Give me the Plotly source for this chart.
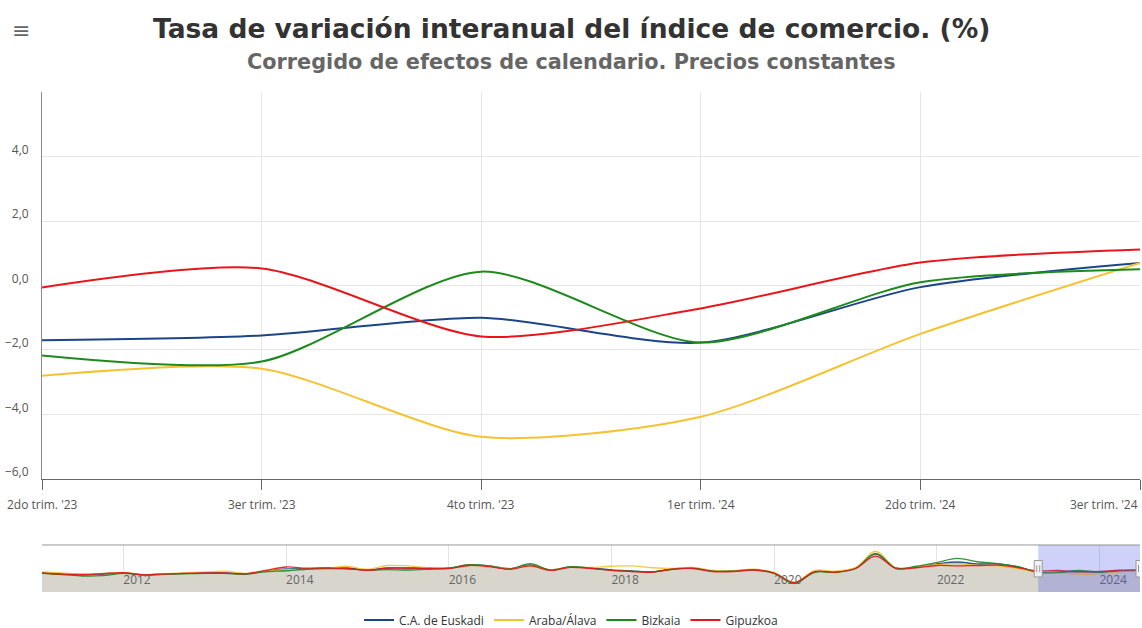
import plotly.graph_objects as go
import pandas as pd

# ---------------- data ----------------
quarters = ["2do trim. '23", "3er trim. '23", "4to trim. '23",
            "1er trim. '24", "2do trim. '24", "3er trim. '24"]

euskadi = [-1.70, -1.55, -1.00, -1.77, -0.05, 0.70]
araba = [-2.80, -2.58, -4.69, -4.07, -1.50, 0.70]
bizkaia = [-2.17, -2.36, 0.43, -1.77, 0.10, 0.50]
gipuzkoa = [-0.06, 0.53, -1.58, -0.71, 0.71, 1.12]

# navigator history 2011Q1 .. 2023Q1 (read roughly off the small navigator)
nav_euskadi_hist = [-2.9, -4.3, -5.6, -4.3, -2.9, -5.6, -4.3, -3.6, -2.9, -2.9, -4.3, -0.3,
                    2.4, 2.8, 3.7, 3.7, 1.1, 3.7, 3.7, 3.7, 3.7, 7.7, 6.4, 2.8,
                    7.7, 1.1, 5.1, 3.7, 1.1, -0.3, -1.6, 2.4, 3.7, -0.3, -0.3, 1.1,
                    -2.9, -16.3, -1.6, -1.6, 3.7, 22.4, 3.7, 5.1, 9.1, 11.7, 9.1, 9.1, 5.1]
nav_araba_hist = [-1.5, -3.0, -4.5, -3.5, -2.5, -5.0, -4.0, -3.0, -1.5, -0.5, -3.5, -0.5,
                  1.5, 2.0, 3.0, 6.0, 2.0, 7.0, 6.5, 4.0, 3.5, 7.0, 6.0, 3.0,
                  6.5, 1.5, 5.0, 4.5, 6.0, 6.5, 4.0, 3.0, 4.5, 0.5, 0.0, 2.0,
                  -2.0, -15.0, 0.5, -0.5, 4.5, 26.0, 4.0, 5.5, 8.0, 9.5, 7.0, 6.5, 3.0]
nav_bizkaia_hist = [-3.5, -5.0, -7.0, -6.5, -3.5, -5.5, -4.5, -4.0, -3.5, -3.5, -4.5, -1.5,
                    0.0, 2.0, 3.0, 2.5, 1.0, 1.5, 1.0, 2.0, 3.5, 8.0, 6.5, 2.5,
                    9.5, 1.0, 5.5, 3.5, 0.5, -0.5, -1.5, 2.0, 3.5, -0.5, -0.5, 1.0,
                    -3.5, -17.0, -2.0, -2.0, 3.0, 23.0, 3.5, 6.0, 11.0, 16.5, 12.0, 9.5, 5.5]
nav_gipuzkoa_hist = [-3.0, -4.5, -5.0, -4.0, -2.5, -5.5, -4.5, -3.5, -3.0, -3.0, -4.0, 0.5,
                     5.0, 3.5, 3.5, 3.0, 0.5, 3.5, 3.5, 3.0, 3.0, 7.0, 5.5, 2.0,
                     6.5, 0.5, 4.5, 3.0, 0.5, -1.0, -2.0, 2.0, 3.0, -1.0, -1.0, 1.0,
                     -3.0, -16.0, -1.0, -2.0, 3.0, 19.5, 3.0, 4.0, 7.0, 6.5, 7.0, 7.5, 4.0]

names = ["C.A. de Euskadi", "Araba/Álava", "Bizkaia", "Gipuzkoa"]
colors = ["#1c4587", "#f5c332", "#1e8a1e", "#e8161b"]

NAV_YMIN, NAV_YMAX = -28.3, 34.4
# ---------------------------------------

main_series = [euskadi, araba, bizkaia, gipuzkoa]
nav_series = [h + s for h, s in zip([nav_euskadi_hist, nav_araba_hist, nav_bizkaia_hist, nav_gipuzkoa_hist],
                                    main_series)]
n_nav = len(nav_series[0])
nav_dates = pd.date_range("2011-01-01", periods=n_nav, freq="QS")
sel_start, sel_end = nav_dates[-len(quarters)], nav_dates[-1]

fig = go.Figure()

for name, col, vals in zip(names, colors, main_series):
    fig.add_trace(go.Scatter(x=quarters, y=vals, name=name, mode="lines",
                             line=dict(color=col, width=2, shape="spline", smoothing=0.75),
                             xaxis="x", yaxis="y"))

# navigator area
fig.add_trace(go.Scatter(x=nav_dates, y=[NAV_YMIN] * n_nav, mode="lines", line=dict(width=0),
                         showlegend=False, hoverinfo="skip", xaxis="x2", yaxis="y2"))
fig.add_trace(go.Scatter(x=nav_dates, y=nav_series[0], mode="lines", line=dict(width=0, shape="spline"),
                         fill="tonexty", fillcolor="#d7d5cc", showlegend=False, hoverinfo="skip",
                         xaxis="x2", yaxis="y2"))
for name, col, vals in zip(names, colors, nav_series):
    fig.add_trace(go.Scatter(x=nav_dates, y=vals, mode="lines", showlegend=False, hoverinfo="skip",
                             line=dict(color=col, width=1.3, shape="spline"), opacity=0.9,
                             xaxis="x2", yaxis="y2"))

shapes = []
# navigator top outline
shapes.append(dict(type="line", xref="x2 domain", yref="y2 domain", x0=0, x1=1, y0=1, y1=1,
                   line=dict(color="#9a9a9a", width=1)))
# selected range mask
shapes.append(dict(type="rect", xref="x2", yref="y2 domain", x0=sel_start, x1=sel_end, y0=0, y1=1,
                   fillcolor="rgba(80,90,235,0.28)", line=dict(width=0), layer="above"))
for d in (sel_start, sel_end):
    shapes.append(dict(type="rect", xref="x2", yref="y2 domain", xsizemode="pixel", xanchor=d,
                       x0=-4, x1=4, y0=0.32, y1=0.67, fillcolor="#f2f2f2",
                       line=dict(color="#999999", width=1), layer="above"))
    for dx in (-1.5, 1.5):
        shapes.append(dict(type="line", xref="x2", yref="y2 domain", xsizemode="pixel", xanchor=d,
                           x0=dx, x1=dx, y0=0.42, y1=0.57, line=dict(color="#999999", width=1),
                           layer="above"))

CENTER_X = 0.4818  # page centre expressed in plot-area paper coordinates

annotations = [
    dict(text="<b>Tasa de variación interanual del índice de comercio. (%)</b>", xref="paper", yref="paper",
         x=CENTER_X, y=1.119, xanchor="center", yanchor="middle", showarrow=False,
         font=dict(family="DejaVu Sans", size=26.5, color="#333333")),
    dict(text="<b>Corregido de efectos de calendario. Precios constantes</b>", xref="paper", yref="paper",
         x=CENTER_X, y=1.056, xanchor="center", yanchor="middle", showarrow=False,
         font=dict(family="DejaVu Sans", size=20.8, color="#666666")),
    dict(text="≡", xref="paper", yref="paper", x=-0.019, y=1.114, xanchor="center", yanchor="middle",
         showarrow=False, font=dict(family="DejaVu Sans", size=22, color="#666666")),
]
for i, q in enumerate(quarters):
    last = i == len(quarters) - 1
    annotations.append(dict(text=q, xref="x", yref="y domain", x=i, y=0, yanchor="middle",
                            xanchor="right" if last else "center", yshift=-26,
                            showarrow=False, font=dict(family="Open Sans", size=12, color="#555555")))

fig.update_layout(
    width=1142, height=628,
    margin=dict(l=42, r=2, t=92, b=0, autoexpand=False),
    paper_bgcolor="white", plot_bgcolor="white",
    separators=",.",
    font=dict(family="Open Sans", size=12, color="#555555"),
    showlegend=True,
    legend=dict(orientation="h", x=CENTER_X, xanchor="center", y=0.0149, yanchor="middle",
                traceorder="normal",
                font=dict(family="Open Sans", size=12, color="#333333"), itemwidth=30,
                bgcolor="rgba(0,0,0,0)"),
    xaxis=dict(domain=[0, 1], anchor="y", type="category", range=[0, len(quarters) - 1],
               showgrid=True, gridcolor="#e6e6e6", showline=True, linecolor="#666666", linewidth=1,
               ticks="outside", ticklen=10, tickcolor="#666666", showticklabels=False, zeroline=False,
               automargin=False),
    yaxis=dict(domain=[0.278, 1], anchor="x", range=[-6, 6], tickvals=[-6, -4, -2, 0, 2, 4],
               tickformat=".1f", showgrid=True, gridcolor="#e6e6e6", zeroline=False,
               showline=True, linecolor="#8a8a8a", linewidth=1, ticks="", ticklabelstandoff=10,
               ticklabelshift=-7, automargin=False,
               tickfont=dict(family="Open Sans", size=12, color="#555555")),
    xaxis2=dict(domain=[0, 1], anchor="y2", type="date", range=[nav_dates[0], nav_dates[-1]],
                showgrid=True, gridcolor="#e3e3e3", tick0="2012-01-01", dtick="M24", tickformat="%Y",
                ticklabelposition="inside right", ticks="", showline=False, zeroline=False,
                automargin=False,
                tickfont=dict(family="Open Sans", size=12, color="#666666")),
    yaxis2=dict(domain=[0.0672, 0.1549], anchor="x2", range=[NAV_YMIN, NAV_YMAX], visible=False,
                showgrid=False, zeroline=False, automargin=False),
    shapes=shapes,
    annotations=annotations,
)

fig.write_html("out.html", config={"displayModeBar": False},
               post_script="document.body.style.margin='0';document.body.style.overflow='hidden';")
